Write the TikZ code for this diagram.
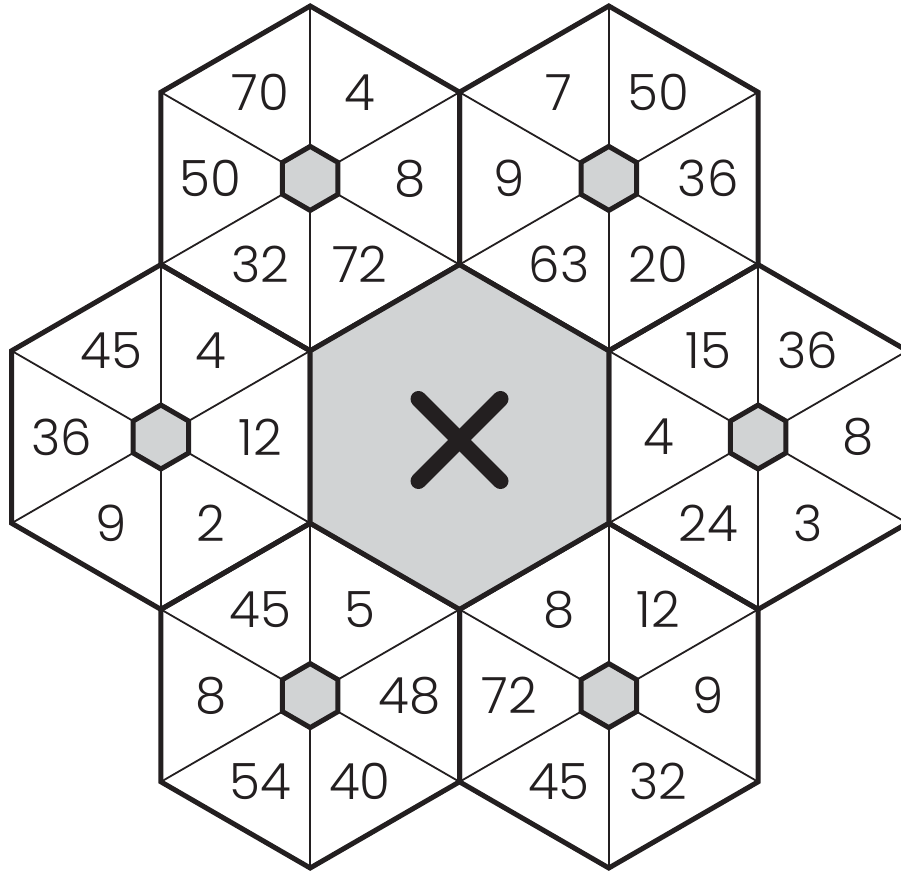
\documentclass[tikz,border=0pt]{standalone}
\usepackage{fontspec}
\setmainfont{Poppins Light}
\usetikzlibrary{calc}

\definecolor{cellgray}{RGB}{209,211,212}
\definecolor{inkblack}{RGB}{35,31,32}

\tikzset{
  hexline/.style={draw=inkblack, line width=5pt, line join=miter},
  cellline/.style={draw=inkblack, line width=1.8pt},
  cellnum/.style={font=\fontsize{50}{50}\selectfont, text=inkblack, inner sep=0pt},
}

\begin{document}
\begin{tikzpicture}[x=1pt, y=1pt]
  \useasboundingbox (0,0) rectangle (901,871);
  \clip (0,0) rectangle (901,871);
  \def\R{172.4}
  \def\D{298.6}
  \def\r{99.5}
  \coordinate (c0) at (459.5,434);

  % ----- Outer hexagons: angle, then numbers at 60, 0, -60, -120, 180, 120 -----
  \foreach \k/\ang/\na/\nb/\nc/\nd/\ne/\nf in {
      1/120/4/8/72/32/50/70,
      2/60/50/36/20/63/9/7,
      3/180/4/12/2/9/36/45,
      4/0/36/8/3/24/4/15,
      5/240/5/48/40/54/8/45,
      6/300/12/9/32/45/72/8}
  {
    \begin{scope}[shift={($(c0)+(\ang:\D)$)}]
      \coordinate (h\k) at (0,0);
      % spokes
      \foreach \v in {30,90,...,330}
        \draw[cellline] (h\k) -- (\v:\R);
      % outline
      \draw[hexline] (30:\R) \foreach \v in {90,150,...,330} { -- (\v:\R)} -- cycle;
      % small gray hub
      \filldraw[fill=cellgray, hexline] (30:32) \foreach \v in {90,150,...,330} { -- (\v:32)} -- cycle;
      % numbers
      \node[cellnum] (n\k a) at (60:\r) {\na};
      \node[cellnum] (n\k b) at (0:\r) {\nb};
      \node[cellnum] (n\k c) at (-60:\r) {\nc};
      \node[cellnum] (n\k d) at (-120:\r) {\nd};
      \node[cellnum] (n\k e) at (180:\r) {\ne};
      \node[cellnum] (n\k f) at (120:\r) {\nf};
    \end{scope}
  }

  % ----- Central hexagon with cross -----
  \filldraw[fill=cellgray, hexline] ($(c0)+(30:\R)$) \foreach \v in {90,150,...,330} { -- ($(c0)+(\v:\R)$)} -- cycle;
  \coordinate (xa) at ($(c0)+(-41,38)$);
  \coordinate (xb) at ($(c0)+(41,-44)$);
  \coordinate (xc) at ($(c0)+(41,38)$);
  \coordinate (xd) at ($(c0)+(-41,-44)$);
  \draw[draw=inkblack, line width=16pt, line cap=round] (xa) -- (xb);
  \draw[draw=inkblack, line width=16pt, line cap=round] (xc) -- (xd);
\end{tikzpicture}
\end{document}
